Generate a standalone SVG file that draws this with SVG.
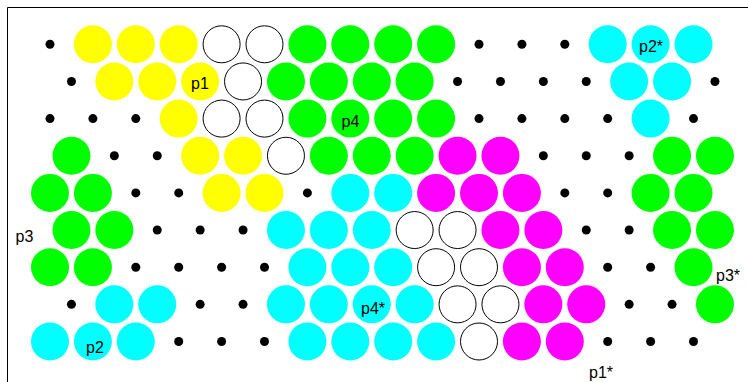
<svg xmlns="http://www.w3.org/2000/svg" width="748" height="382" viewBox="0 0 748 382">
<style>
.y{fill:#ffff00}
.g{fill:#00ff00}
.c{fill:#00ffff}
.m{fill:#ff00ff}
.w{fill:#ffffff;stroke:#000000;stroke-width:1}
.d{fill:#000000}
.lb{font-family:"Liberation Sans",Arial,sans-serif;font-size:16px;fill:#000000;text-anchor:middle}
</style>
<rect width="748" height="382" fill="#ffffff"/>
<g id="frame" stroke="#000000" stroke-width="1" fill="none">
<line x1="7.5" y1="7.5" x2="748" y2="7.5"/>
<line x1="7.5" y1="7.5" x2="7.5" y2="382"/>
</g>
<g id="connectors"/>
<g id="dots" class="d">
<circle cx="50" cy="44.3" r="4.5"/>
<circle cx="479" cy="44.3" r="4.5"/>
<circle cx="521.9" cy="44.3" r="4.5"/>
<circle cx="564.8" cy="44.3" r="4.5"/>
<circle cx="71.45" cy="81.45" r="4.5"/>
<circle cx="457.55" cy="81.45" r="4.5"/>
<circle cx="500.45" cy="81.45" r="4.5"/>
<circle cx="543.35" cy="81.45" r="4.5"/>
<circle cx="586.25" cy="81.45" r="4.5"/>
<circle cx="714.95" cy="81.45" r="4.5"/>
<circle cx="50" cy="118.6" r="4.5"/>
<circle cx="92.9" cy="118.6" r="4.5"/>
<circle cx="135.8" cy="118.6" r="4.5"/>
<circle cx="479" cy="118.6" r="4.5"/>
<circle cx="521.9" cy="118.6" r="4.5"/>
<circle cx="564.8" cy="118.6" r="4.5"/>
<circle cx="607.7" cy="118.6" r="4.5"/>
<circle cx="693.5" cy="118.6" r="4.5"/>
<circle cx="114.35" cy="155.75" r="4.5"/>
<circle cx="157.25" cy="155.75" r="4.5"/>
<circle cx="543.35" cy="155.75" r="4.5"/>
<circle cx="586.25" cy="155.75" r="4.5"/>
<circle cx="629.15" cy="155.75" r="4.5"/>
<circle cx="135.8" cy="192.9" r="4.5"/>
<circle cx="178.7" cy="192.9" r="4.5"/>
<circle cx="307.4" cy="192.9" r="4.5"/>
<circle cx="564.8" cy="192.9" r="4.5"/>
<circle cx="607.7" cy="192.9" r="4.5"/>
<circle cx="157.25" cy="230.05" r="4.5"/>
<circle cx="200.15" cy="230.05" r="4.5"/>
<circle cx="243.05" cy="230.05" r="4.5"/>
<circle cx="586.25" cy="230.05" r="4.5"/>
<circle cx="629.15" cy="230.05" r="4.5"/>
<circle cx="135.8" cy="267.2" r="4.5"/>
<circle cx="178.7" cy="267.2" r="4.5"/>
<circle cx="221.6" cy="267.2" r="4.5"/>
<circle cx="264.5" cy="267.2" r="4.5"/>
<circle cx="607.7" cy="267.2" r="4.5"/>
<circle cx="650.6" cy="267.2" r="4.5"/>
<circle cx="71.45" cy="304.35" r="4.5"/>
<circle cx="200.15" cy="304.35" r="4.5"/>
<circle cx="243.05" cy="304.35" r="4.5"/>
<circle cx="629.15" cy="304.35" r="4.5"/>
<circle cx="672.05" cy="304.35" r="4.5"/>
<circle cx="178.7" cy="341.5" r="4.5"/>
<circle cx="221.6" cy="341.5" r="4.5"/>
<circle cx="264.5" cy="341.5" r="4.5"/>
<circle cx="607.7" cy="341.5" r="4.5"/>
<circle cx="650.6" cy="341.5" r="4.5"/>
<circle cx="693.5" cy="341.5" r="4.5"/>
</g>
<g id="p1" class="y">
<circle cx="92.9" cy="44.3" r="19"/>
<circle cx="135.8" cy="44.3" r="19"/>
<circle cx="178.7" cy="44.3" r="19"/>
<circle cx="114.35" cy="81.45" r="19"/>
<circle cx="157.25" cy="81.45" r="19"/>
<circle cx="200.15" cy="81.45" r="19"/>
<circle cx="178.7" cy="118.6" r="19"/>
<circle cx="200.15" cy="155.75" r="19"/>
<circle cx="243.05" cy="155.75" r="19"/>
<circle cx="221.6" cy="192.9" r="19"/>
<circle cx="264.5" cy="192.9" r="19"/>
</g>
<g id="white-top" class="w">
<circle cx="221.6" cy="44.3" r="18.5"/>
<circle cx="264.5" cy="44.3" r="18.5"/>
<circle cx="243.05" cy="81.45" r="18.5"/>
<circle cx="221.6" cy="118.6" r="18.5"/>
<circle cx="264.5" cy="118.6" r="18.5"/>
<circle cx="285.95" cy="155.75" r="18.5"/>
</g>
<g id="p4" class="g">
<circle cx="307.4" cy="44.3" r="19"/>
<circle cx="350.3" cy="44.3" r="19"/>
<circle cx="393.2" cy="44.3" r="19"/>
<circle cx="436.1" cy="44.3" r="19"/>
<circle cx="285.95" cy="81.45" r="19"/>
<circle cx="328.85" cy="81.45" r="19"/>
<circle cx="371.75" cy="81.45" r="19"/>
<circle cx="414.65" cy="81.45" r="19"/>
<circle cx="307.4" cy="118.6" r="19"/>
<circle cx="350.3" cy="118.6" r="19"/>
<circle cx="393.2" cy="118.6" r="19"/>
<circle cx="436.1" cy="118.6" r="19"/>
<circle cx="328.85" cy="155.75" r="19"/>
<circle cx="371.75" cy="155.75" r="19"/>
<circle cx="414.65" cy="155.75" r="19"/>
</g>
<g id="p2star" class="c">
<circle cx="607.7" cy="44.3" r="19"/>
<circle cx="650.6" cy="44.3" r="19"/>
<circle cx="693.5" cy="44.3" r="19"/>
<circle cx="629.15" cy="81.45" r="19"/>
<circle cx="672.05" cy="81.45" r="19"/>
<circle cx="650.6" cy="118.6" r="19"/>
</g>
<g id="p1star" class="m">
<circle cx="457.55" cy="155.75" r="19"/>
<circle cx="500.45" cy="155.75" r="19"/>
<circle cx="436.1" cy="192.9" r="19"/>
<circle cx="479" cy="192.9" r="19"/>
<circle cx="521.9" cy="192.9" r="19"/>
<circle cx="500.45" cy="230.05" r="19"/>
<circle cx="543.35" cy="230.05" r="19"/>
<circle cx="521.9" cy="267.2" r="19"/>
<circle cx="564.8" cy="267.2" r="19"/>
<circle cx="543.35" cy="304.35" r="19"/>
<circle cx="586.25" cy="304.35" r="19"/>
<circle cx="521.9" cy="341.5" r="19"/>
<circle cx="564.8" cy="341.5" r="19"/>
</g>
<g id="p3" class="g">
<circle cx="71.45" cy="155.75" r="19"/>
<circle cx="50" cy="192.9" r="19"/>
<circle cx="92.9" cy="192.9" r="19"/>
<circle cx="71.45" cy="230.05" r="19"/>
<circle cx="114.35" cy="230.05" r="19"/>
<circle cx="50" cy="267.2" r="19"/>
<circle cx="92.9" cy="267.2" r="19"/>
</g>
<g id="p3star" class="g">
<circle cx="672.05" cy="155.75" r="19"/>
<circle cx="714.95" cy="155.75" r="19"/>
<circle cx="650.6" cy="192.9" r="19"/>
<circle cx="693.5" cy="192.9" r="19"/>
<circle cx="672.05" cy="230.05" r="19"/>
<circle cx="714.95" cy="230.05" r="19"/>
<circle cx="693.5" cy="267.2" r="19"/>
<circle cx="714.95" cy="304.35" r="19"/>
</g>
<g id="p4star" class="c">
<circle cx="350.3" cy="192.9" r="19"/>
<circle cx="393.2" cy="192.9" r="19"/>
<circle cx="285.95" cy="230.05" r="19"/>
<circle cx="328.85" cy="230.05" r="19"/>
<circle cx="371.75" cy="230.05" r="19"/>
<circle cx="307.4" cy="267.2" r="19"/>
<circle cx="350.3" cy="267.2" r="19"/>
<circle cx="393.2" cy="267.2" r="19"/>
<circle cx="285.95" cy="304.35" r="19"/>
<circle cx="328.85" cy="304.35" r="19"/>
<circle cx="371.75" cy="304.35" r="19"/>
<circle cx="414.65" cy="304.35" r="19"/>
<circle cx="307.4" cy="341.5" r="19"/>
<circle cx="350.3" cy="341.5" r="19"/>
<circle cx="393.2" cy="341.5" r="19"/>
<circle cx="436.1" cy="341.5" r="19"/>
</g>
<g id="white-bottom" class="w">
<circle cx="414.65" cy="230.05" r="18.5"/>
<circle cx="457.55" cy="230.05" r="18.5"/>
<circle cx="436.1" cy="267.2" r="18.5"/>
<circle cx="479" cy="267.2" r="18.5"/>
<circle cx="457.55" cy="304.35" r="18.5"/>
<circle cx="500.45" cy="304.35" r="18.5"/>
<circle cx="479" cy="341.5" r="18.5"/>
</g>
<g id="p2" class="c">
<circle cx="114.35" cy="304.35" r="19"/>
<circle cx="157.25" cy="304.35" r="19"/>
<circle cx="50" cy="341.5" r="19"/>
<circle cx="92.9" cy="341.5" r="19"/>
<circle cx="135.8" cy="341.5" r="19"/>
</g>
<g id="labels" class="lb">
<text x="200" y="88.5">p1</text>
<text x="350.5" y="126.5">p4</text>
<text x="651" y="51.5">p2*</text>
<text x="24.5" y="242">p3</text>
<text x="95" y="352.5">p2</text>
<text x="373" y="314">p4*</text>
<text x="728" y="280.5">p3*</text>
<text x="601" y="378">p1*</text>
</g>
</svg>
